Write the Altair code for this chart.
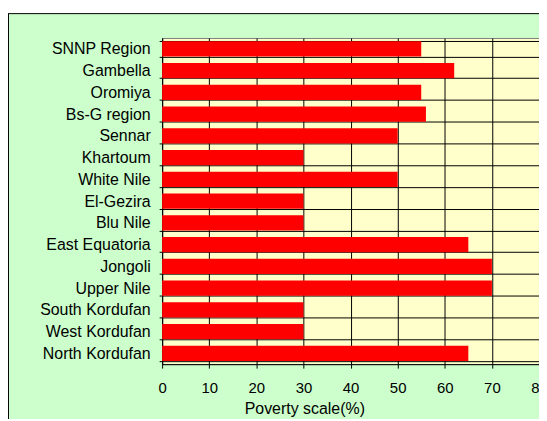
import altair as alt
import pandas as pd

regions = ["SNNP Region", "Gambella", "Oromiya", "Bs-G region", "Sennar",
           "Khartoum", "White Nile", "El-Gezira", "Blu Nile", "East Equatoria",
           "Jongoli", "Upper Nile", "South Kordufan", "West Kordufan", "North Kordufan"]
poverty = [55, 62, 55, 56, 50, 30, 50, 30, 30, 65, 70, 70, 30, 30, 65]
x_ticks = [0, 10, 20, 30, 40, 50, 60, 70, 80]

df = pd.DataFrame({"region": regions, "poverty": poverty})
W, H = 379, 328
FONT = "Liberation Sans"

bars = alt.Chart(df).mark_bar(color="#FF0000").encode(
    x=alt.X("poverty:Q",
            scale=alt.Scale(domain=[0, 80], nice=False),
            axis=alt.Axis(values=x_ticks, title="Poverty scale(%)", grid=True,
                          gridColor="black", gridOpacity=1, tickColor="black",
                          domainColor="black", labelFontSize=15, labelFont=FONT,
                          labelColor="black", labelPadding=13, tickSize=4,
                          labelOverlap=False, labelFlush=False,
                          titleFont=FONT, titleFontSize=16, titleFontWeight="normal",
                          titleColor="black", titleX=143, titleY=37)),
    y=alt.Y("region:N", sort=None,
            scale=alt.Scale(paddingInner=0.3, paddingOuter=0.15),
            axis=alt.Axis(title=None, tickBand="extent", grid=True, gridColor="black",
                          gridOpacity=1, tickColor="black", domainColor="black",
                          labelFontSize=16, labelFont=FONT, labelColor="black",
                          labelPadding=9, tickSize=3)),
)

one = alt.Data(values=[{"a": 1}])
white_strip = alt.Chart(one).mark_rect(color="white").encode(
    x=alt.value(-160), x2=alt.value(W + 10), y=alt.value(-35), y2=alt.value(-25))
top_border = alt.Chart(one).mark_rule(color="black", strokeWidth=1).encode(
    x=alt.value(-154), x2=alt.value(W + 10), y=alt.value(-24.5))
left_border = alt.Chart(one).mark_rule(color="black", strokeWidth=1).encode(
    x=alt.value(-154.5), y=alt.value(-25), y2=alt.value(H + 60))

chart = alt.layer(white_strip, top_border, left_border, bars).properties(
    width=W, height=H,
    padding={"left": 155, "top": 29, "right": 0, "bottom": 54},
    autosize=alt.AutoSizeParams(type="none"),
    background="#CCFFCC",
).configure_view(fill="#FFFFCC", stroke="#808080", strokeWidth=1)

chart.save("out.html", embed_options={"renderer": "svg", "actions": False})
